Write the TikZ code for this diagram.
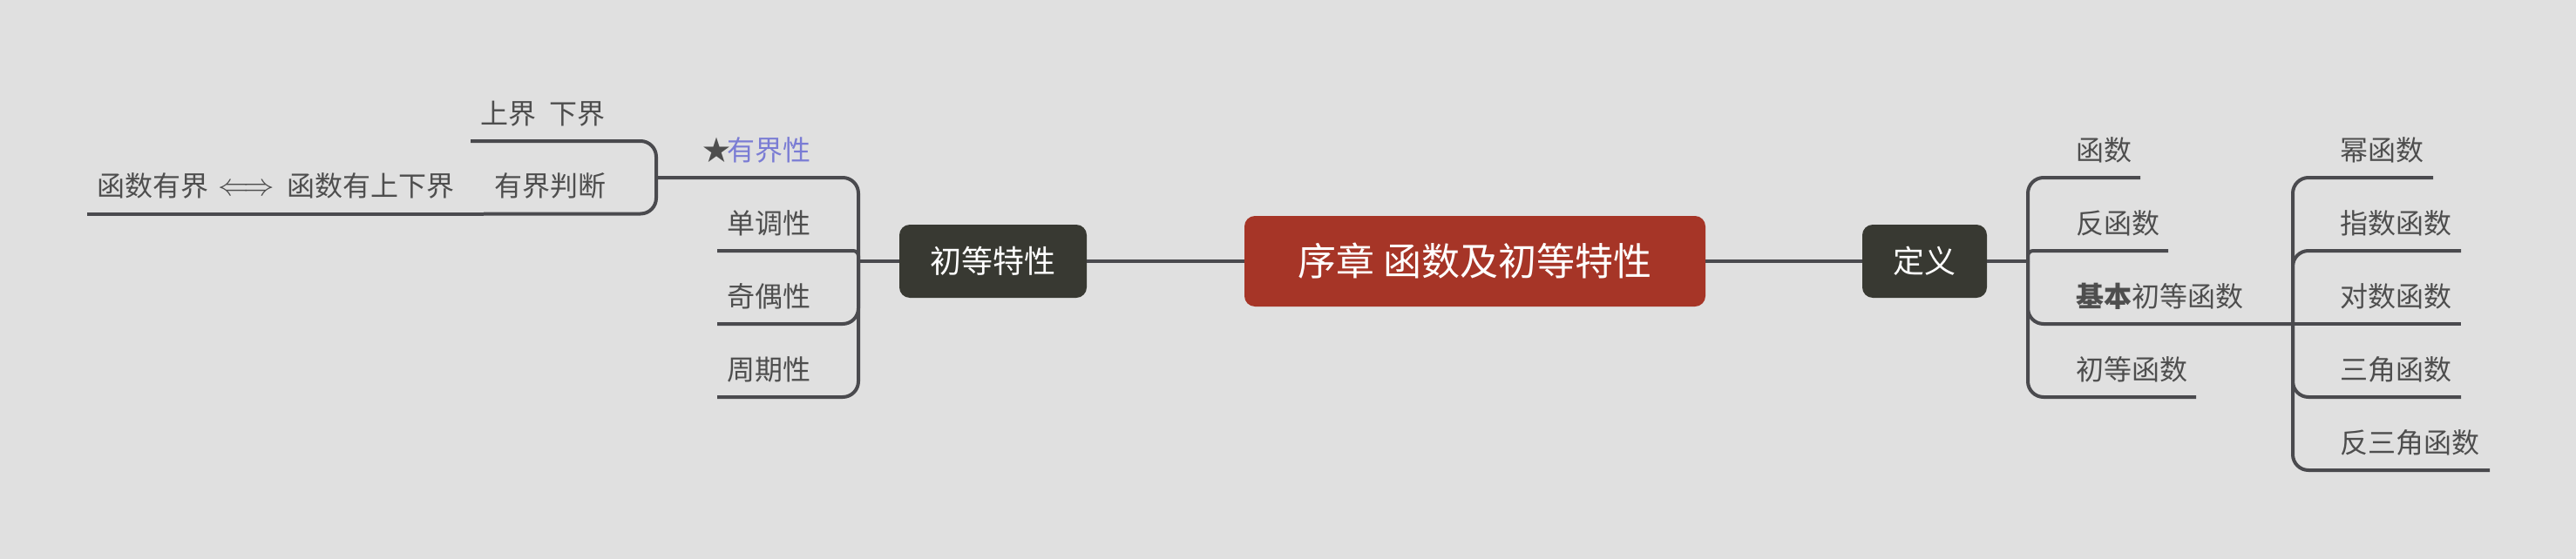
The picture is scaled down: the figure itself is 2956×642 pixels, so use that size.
\documentclass[tikz,border=0pt]{standalone}
\usepackage{fontspec}
\usepackage{graphicx}
\newfontfamily\cjk{Noto Sans CJK SC}
\definecolor{bgc}{RGB}{224,224,224}
\definecolor{linec}{RGB}{74,74,78}
\definecolor{leafc}{RGB}{78,78,78}
\definecolor{bluec}{RGB}{122,124,212}
\definecolor{darkc}{RGB}{56,57,50}
\definecolor{redc}{RGB}{166,53,39}
\begin{document}
\begin{tikzpicture}[x=1pt,y=-1pt,
  conn/.style={draw=linec, line width=4pt},
  leaf/.style={anchor=base west, inner sep=0pt, text=leafc, font=\cjk\fontsize{32}{38}\selectfont},
  topic/.style={fill=darkc, rounded corners=12pt, text=white, inner sep=0pt, minimum height=84pt, font=\cjk\fontsize{36}{42}\selectfont},
  central/.style={fill=redc, rounded corners=12pt, text=white, inner sep=0pt, minimum width=529pt, minimum height=104pt, font=\cjk\fontsize{44}{50}\selectfont}]
\fill[bgc] (0,0) rectangle (2956,642);
\useasboundingbox (0,0) rectangle (2956,642);

% main nodes
\node[central] (root) at (1692.5,300) {序章 函数及初等特性};
\node[topic, minimum width=215pt] (chu) at (1139.5,300) {初等特性};
\node[topic, minimum width=143pt] (def) at (2208.5,300) {定义};

% junctions and underline ends
\coordinate (jL) at (985,300);
\coordinate (jB) at (753,204);
\coordinate (j1) at (2327,300);
\coordinate (j2) at (2631,372);
\coordinate (uShang) at (540,162);
\coordinate (uPan) at (555,245.5);
\coordinate (uHan) at (100,245.5);
\coordinate (uDan) at (823,288);
\coordinate (uJi) at (823,372);
\coordinate (uZhou) at (823,456);
\coordinate (uF1) at (2456,204);
\coordinate (uF2) at (2488,288);
\coordinate (uF4) at (2520,456);
\coordinate (uP1) at (2792,204);
\coordinate (uP2) at (2824,288);
\coordinate (uP3) at (2824,372);
\coordinate (uP4) at (2824,456);
\coordinate (uP5) at (2857,540);

% connectors
\draw[conn] (root.west) -- (chu.east);
\draw[conn] (chu.west) -- (jL);
\draw[conn] (root.east) -- (def.west);
\draw[conn] (def.east) -- (j1);

\draw[conn, rounded corners=18pt] (jL) |- (jB);
\draw[conn, rounded corners=6pt] (jL) |- (uDan);
\draw[conn, rounded corners=18pt] (jL) |- (uJi);
\draw[conn, rounded corners=18pt] (jL) |- (uZhou);
\draw[conn, rounded corners=18pt] (jB) |- (uShang);
\draw[conn, rounded corners=18pt] (jB) |- (uPan);
\draw[conn] (uPan) -- (uHan);

\draw[conn, rounded corners=18pt] (j1) |- (uF1);
\draw[conn, rounded corners=6pt] (j1) |- (uF2);
\draw[conn, rounded corners=18pt] (j1) |- (j2);
\draw[conn, rounded corners=18pt] (j1) |- (uF4);
\draw[conn, rounded corners=18pt] (j2) |- (uP1);
\draw[conn, rounded corners=18pt] (j2) |- (uP2);
\draw[conn] (j2) -- (uP3);
\draw[conn, rounded corners=18pt] (j2) |- (uP4);
\draw[conn, rounded corners=18pt] (j2) |- (uP5);

% left leaves
\node[leaf] (shang) at (551,142) {上界\hspace{15pt}下界};
\node[leaf] (pan) at (567,225.5) {有界判断};
\node[leaf] (han) at (111,225.5) {函数有界\hspace{11pt}\raisebox{1pt}{\resizebox{65pt}{!}{$\Longleftrightarrow$}}\hspace{14pt}函数有上下界};
\node[leaf] (you) at (806,184) {★\hspace{-4pt}\textcolor{bluec}{有界性}};
\node[leaf] (dan) at (834,268) {单调性};
\node[leaf] (ji) at (834,352) {奇偶性};
\node[leaf] (zhou) at (834,436) {周期性};

% right leaves
\node[leaf] (f1) at (2382,184) {函数};
\node[leaf] (f2) at (2382,268) {反函数};
\node[leaf] (f3) at (2382,352) {{\bfseries 基本}初等函数};
\node[leaf] (f4) at (2382,436) {初等函数};
\node[leaf] (p1) at (2685,184) {幂函数};
\node[leaf] (p2) at (2685,268) {指数函数};
\node[leaf] (p3) at (2685,352) {对数函数};
\node[leaf] (p4) at (2685,436) {三角函数};
\node[leaf] (p5) at (2685,520) {反三角函数};
\end{tikzpicture}
\end{document}
